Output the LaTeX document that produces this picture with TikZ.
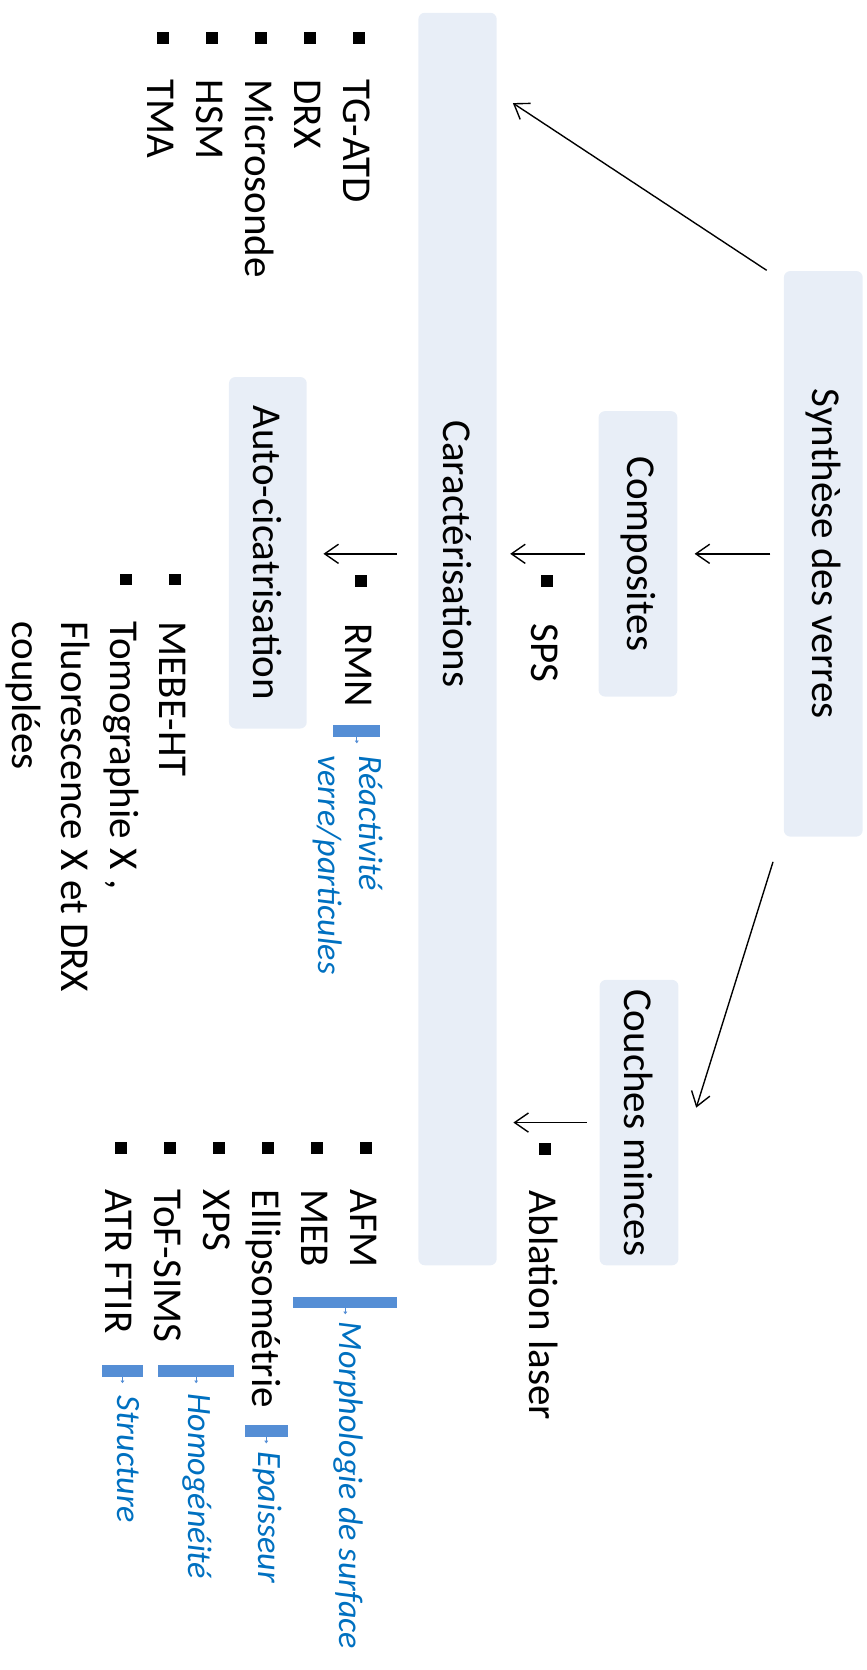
\documentclass[tikz,border=0pt]{standalone}
\usepackage{fontspec}
\setmainfont{Carlito}
\usetikzlibrary{arrows.meta,positioning}

\definecolor{boxfill}{RGB}{232,238,247}
\definecolor{barblue}{RGB}{85,142,213}
\definecolor{noteblue}{RGB}{0,112,192}

% square bullet followed by the text indent
\newcommand{\sqitem}{\makebox[45pt][l]{\rule[9pt]{11pt}{11pt}}}
\newcommand{\sqgap}{\hspace*{45pt}}

\begin{document}
\begin{tikzpicture}[x=1pt, y=-1pt,
stage/.style = {fill=boxfill, rounded corners=6pt, inner sep=0pt, minimum width=74pt},
lbl/.style = {rotate=-90, inner sep=0pt, font=\fontsize{38.5}{46}\selectfont},
lst/.style = {rotate=-90, inner sep=0pt, anchor=base west, font=\fontsize{38.5}{46}\selectfont},
note/.style = {rotate=-90, inner sep=0pt, anchor=base west, text=noteblue, font=\fontsize{32}{38.5}\selectfont\itshape},
bar/.style = {fill=barblue, inner sep=0pt, minimum height=11pt},
arr/.style = {-{Straight Barb[length=13pt,width=18pt]}, line width=1.3pt},
tick/.style = {-{Triangle[length=2.5pt,width=3.5pt]}, draw=barblue, fill=barblue, line width=1pt},
]
\useasboundingbox (0,0) rectangle (814,1568);

% Draw stages
\node[stage, minimum height=531pt] (synth) at (773,520) {\rotatebox{-90}{\fontsize{38.5}{46}\selectfont Synthèse des verres}};
\node[stage, minimum height=268pt] (comp) at (599,520) {\rotatebox{-90}{\fontsize{38.5}{46}\selectfont Composites}};
\node[stage, minimum height=268pt] (couches) at (600,1054) {\rotatebox{-90}{\fontsize{38.5}{46}\selectfont Couches minces}};
\node[stage, minimum height=1176pt, minimum width=73.5pt] (carac) at (429.6,600) {};
\node[lbl] (caractxt) at (429.6,520) {Caractérisations};
\node[stage, minimum height=330pt, minimum width=73pt] (auto) at (251.5,519) {\rotatebox{-90}{\fontsize{38.5}{46}\selectfont Auto-cicatrisation}};

% Draw edges
\draw[arr] ([xshift=-16pt,yshift=0.5pt]synth.north west) -- ([xshift=15pt,yshift=-85pt]carac.north east);
\draw[arr] ([xshift=-12.5pt]synth.west) -- ([xshift=16pt]comp.east);
\draw[arr] ([xshift=-10pt,yshift=-23.5pt]synth.south west) -- ([xshift=16.5pt,yshift=14pt]couches.east);
\draw[arr] ([xshift=-12.5pt]comp.west) -- ([xshift=12.5pt]comp.west -| carac.east);
\draw[arr] ([xshift=-12pt]couches.west) -- ([xshift=15.5pt]couches.west -| carac.east);
\draw[arr] ([xshift=-20pt]carac.west |- comp.west) -- ([xshift=15.5pt]auto.east |- comp.west);

% Technique lists
\node[lst] (techlist) at (322.5,29.7) {\begin{tabular}[t]{@{}l@{}}
\sqitem TG-ATD\\ \sqitem DRX\\ \sqitem Microsonde\\ \sqitem HSM\\ \sqitem TMA
\end{tabular}};
\node[lst] (complist) at (499,540) {\begin{tabular}[t]{@{}l@{}} \sqitem SPS \end{tabular}};
\node[lst] (rmnlist) at (324.6,540) {\begin{tabular}[t]{@{}l@{}} \sqitem RMN \end{tabular}};
\node[lst] (autolist) at (149.5,538.5) {\begin{tabular}[t]{@{}l@{}}
\sqitem MEBE-HT\\ \sqitem Tomographie X ,\\ \sqgap Fluorescence X et DRX\\ \sqgap couplées
\end{tabular}};
\node[lst] (ablist) at (497.5,1073) {\begin{tabular}[t]{@{}l@{}} \sqitem Ablation laser \end{tabular}};
\node[lst] (surflist) at (329,1072) {\begin{tabular}[t]{@{}l@{}}
\sqitem AFM\\ \sqitem MEB\\ \sqitem Ellipsométrie\\ \sqitem XPS\\ \sqitem ToF-SIMS\\ \sqitem ATR FTIR
\end{tabular}};

% Blue brackets
\node[bar, minimum width=44pt] (rmnbar) at (335,686.2) {};
\node[bar, minimum width=97.6pt, minimum height=10.4pt] (morphbar) at (324.2,1222.6) {};
\node[bar, minimum width=40pt] (epbar) at (250,1343.5) {};
\node[bar, minimum width=71pt] (homobar) at (184.2,1287) {};
\node[bar, minimum width=39pt] (strucbar) at (115,1287) {};
\foreach \b in {rmnbar, morphbar, epbar, homobar, strucbar}
  \draw[tick] (\b.south) -- ++(0,6);

% Label brackets
\node[note] (rmnnote) at (338,709) {\begin{tabular}[t]{@{}l@{}}Réactivité\\ verre/particules\end{tabular}};
\node[note] (morphnote) at (319,1241) {Morphologie de surface};
\node[note] (epnote) at (243,1363) {Epaisseur};
\node[note] (homonote) at (177,1308) {Homogénéité};
\node[note] (strucnote) at (110,1310.5) {Structure};

\end{tikzpicture}
\end{document}
